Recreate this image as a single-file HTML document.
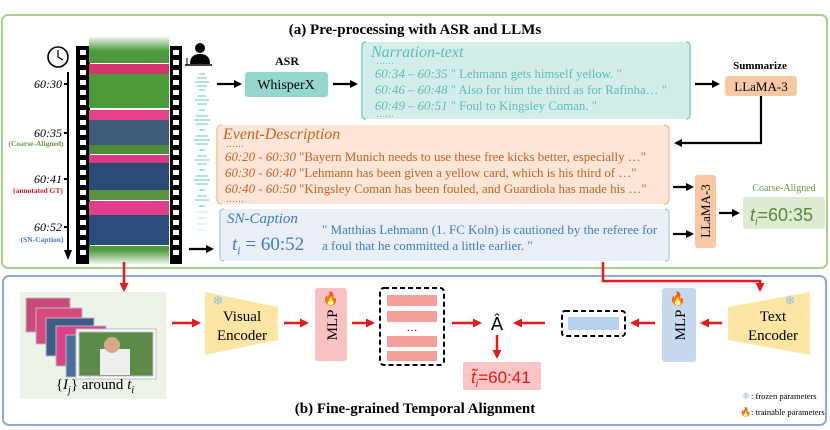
<!DOCTYPE html>
<html><head><meta charset="utf-8"><style>
html,body{margin:0;padding:0;background:#fff;}
svg{display:block;font-family:"Liberation Serif",serif;}
</style></head><body>
<svg width="830" height="430" viewBox="0 0 830 430" xmlns="http://www.w3.org/2000/svg">
<defs>
<marker id="ab" markerWidth="8" markerHeight="8" refX="6" refY="4" orient="auto" markerUnits="userSpaceOnUse"><path d="M0,0 L8,4 L0,8 z" fill="#000"/></marker>
<marker id="ar" markerWidth="9" markerHeight="9" refX="7" refY="4.5" orient="auto" markerUnits="userSpaceOnUse"><path d="M0,0 L9,4.5 L0,9 z" fill="#e8191a"/></marker>
<linearGradient id="fade" x1="0" y1="0" x2="0" y2="1"><stop offset="0" stop-color="#fff" stop-opacity="0.9"/><stop offset="1" stop-color="#fff" stop-opacity="0"/></linearGradient>
<linearGradient id="fade2" x1="0" y1="0" x2="0" y2="1"><stop offset="0" stop-color="#fff" stop-opacity="0"/><stop offset="1" stop-color="#fff" stop-opacity="0.9"/></linearGradient>
</defs>

<rect x="2" y="15" width="825" height="253" rx="6" fill="#fff" stroke="#a9d18e" stroke-width="2"/>
<text x="415" y="34" text-anchor="middle" font-weight="bold" font-size="15">(a) Pre-processing with ASR and LLMs</text>

<circle cx="58" cy="57" r="10" fill="#fff" stroke="#000" stroke-width="1.6"/>
<path d="M58,50 L58,57 L63,60" stroke="#000" stroke-width="1.2" fill="none"/>
<line x1="68" y1="72" x2="68" y2="252" stroke="#000" stroke-width="2"/>
<path d="M64,250 L68,260 L72,250 z" fill="#000"/>
<g font-style="italic" font-size="12" text-anchor="end">
<text x="62" y="88">60:30</text><line x1="64" y1="84" x2="68" y2="84" stroke="#000" stroke-width="2"/>
<text x="62" y="137">60:35</text><line x1="64" y1="133" x2="68" y2="133" stroke="#000" stroke-width="2"/>
<text x="62" y="183">60:41</text><line x1="64" y1="179" x2="68" y2="179" stroke="#000" stroke-width="2"/>
<text x="62" y="231">60:52</text><line x1="64" y1="227" x2="68" y2="227" stroke="#000" stroke-width="2"/>
</g>
<g font-size="7.5" font-weight="bold" text-anchor="middle">
<text x="36" y="146" fill="#6a9a45">(Coarse-Aligned)</text>
<text x="38" y="193" fill="#e8191a">(annotated GT)</text>
<text x="42" y="242" fill="#3d7cc9">(SN-Caption)</text>
</g>

<rect x="76" y="46" width="14" height="218" fill="#000"/>
<rect x="170" y="46" width="12" height="218" fill="#000"/>
<g fill="#fff">
<rect x="80" y="50" width="6" height="5"/><rect x="80" y="60" width="6" height="5"/><rect x="80" y="70" width="6" height="5"/><rect x="80" y="80" width="6" height="5"/><rect x="80" y="90" width="6" height="5"/><rect x="80" y="100" width="6" height="5"/><rect x="80" y="110" width="6" height="5"/><rect x="80" y="120" width="6" height="5"/><rect x="80" y="130" width="6" height="5"/><rect x="80" y="140" width="6" height="5"/><rect x="80" y="150" width="6" height="5"/><rect x="80" y="160" width="6" height="5"/><rect x="80" y="170" width="6" height="5"/><rect x="80" y="180" width="6" height="5"/><rect x="80" y="190" width="6" height="5"/><rect x="80" y="200" width="6" height="5"/><rect x="80" y="210" width="6" height="5"/><rect x="80" y="220" width="6" height="5"/><rect x="80" y="230" width="6" height="5"/><rect x="80" y="240" width="6" height="5"/><rect x="80" y="250" width="6" height="5"/>
<rect x="173" y="50" width="6" height="5"/><rect x="173" y="60" width="6" height="5"/><rect x="173" y="70" width="6" height="5"/><rect x="173" y="80" width="6" height="5"/><rect x="173" y="90" width="6" height="5"/><rect x="173" y="100" width="6" height="5"/><rect x="173" y="110" width="6" height="5"/><rect x="173" y="120" width="6" height="5"/><rect x="173" y="130" width="6" height="5"/><rect x="173" y="140" width="6" height="5"/><rect x="173" y="150" width="6" height="5"/><rect x="173" y="160" width="6" height="5"/><rect x="173" y="170" width="6" height="5"/><rect x="173" y="180" width="6" height="5"/><rect x="173" y="190" width="6" height="5"/><rect x="173" y="200" width="6" height="5"/><rect x="173" y="210" width="6" height="5"/><rect x="173" y="220" width="6" height="5"/><rect x="173" y="230" width="6" height="5"/><rect x="173" y="240" width="6" height="5"/><rect x="173" y="250" width="6" height="5"/>
</g>
<rect x="89" y="37" width="80" height="26" fill="#4c9a3c"/>
<rect x="89" y="64" width="80" height="44" fill="#4e9a3a"/>
<rect x="89" y="64" width="80" height="10" fill="#d4356f"/>
<rect x="89" y="110" width="80" height="44" fill="#3d5a7a"/>
<rect x="89" y="110" width="80" height="10" fill="#e6428a"/>
<rect x="89" y="145" width="80" height="9" fill="#4d8c3a"/>
<rect x="89" y="155" width="80" height="45" fill="#2b4a78"/>
<rect x="89" y="155" width="80" height="8" fill="#d93b82"/>
<rect x="89" y="190" width="80" height="10" fill="#5a9040"/>
<rect x="89" y="201" width="80" height="44" fill="#2c4c7c"/>
<rect x="89" y="201" width="80" height="14" fill="#e0408a"/>
<rect x="89" y="246" width="80" height="18" fill="#4f9a3e"/>
<rect x="89" y="37" width="80" height="14" fill="url(#fade)"/>
<rect x="89" y="250" width="80" height="14" fill="url(#fade2)"/>

<circle cx="200" cy="48" r="5" fill="#000"/>
<path d="M190,64 Q190,54 200,54 Q210,54 210,64 z" fill="#000"/>
<line x1="185" y1="65" x2="212" y2="65" stroke="#000" stroke-width="1.5"/>
<line x1="187" y1="58" x2="187" y2="65" stroke="#000" stroke-width="1"/>
<g stroke="#7fcfc4" stroke-width="1.2">
<line x1="199" y1="74" x2="205" y2="74"/><line x1="197" y1="78" x2="207" y2="78"/><line x1="195" y1="82" x2="209" y2="82"/><line x1="197" y1="86" x2="207" y2="86"/><line x1="199" y1="90" x2="205" y2="90"/>
<line x1="198" y1="96" x2="206" y2="96"/><line x1="195" y1="100" x2="209" y2="100"/><line x1="197" y1="104" x2="207" y2="104"/><line x1="199" y1="110" x2="205" y2="110"/>
<line x1="196" y1="116" x2="208" y2="116"/><line x1="194" y1="120" x2="210" y2="120"/><line x1="196" y1="124" x2="208" y2="124"/><line x1="199" y1="130" x2="205" y2="130"/>
<line x1="196" y1="136" x2="208" y2="136"/><line x1="194" y1="140" x2="210" y2="140"/><line x1="196" y1="144" x2="208" y2="144"/><line x1="199" y1="150" x2="205" y2="150"/>
<line x1="197" y1="156" x2="207" y2="156"/><line x1="195" y1="160" x2="209" y2="160"/><line x1="197" y1="164" x2="207" y2="164"/><line x1="199" y1="170" x2="205" y2="170"/>
<line x1="196" y1="176" x2="208" y2="176"/><line x1="194" y1="180" x2="210" y2="180"/><line x1="196" y1="184" x2="208" y2="184"/><line x1="199" y1="190" x2="205" y2="190"/>
<line x1="197" y1="196" x2="207" y2="196"/><line x1="195" y1="200" x2="209" y2="200"/><line x1="199" y1="206" x2="205" y2="206"/>
</g>
<g stroke="#c4e9e3" stroke-width="1">
<line x1="196" y1="212" x2="208" y2="212"/><line x1="198" y1="218" x2="206" y2="218"/><line x1="197" y1="224" x2="207" y2="224"/><line x1="199" y1="230" x2="205" y2="230"/>
</g>

<text x="287" y="65" text-anchor="middle" font-weight="bold" font-size="12">ASR</text>
<line x1="217" y1="84" x2="240" y2="84" stroke="#000" stroke-width="2.2" marker-end="url(#ab)"/>
<rect x="245" y="72" width="83" height="25" rx="3" fill="#93d7cf"/>
<text x="286" y="89" text-anchor="middle" font-size="14">WhisperX</text>
<line x1="333" y1="84" x2="356" y2="84" stroke="#000" stroke-width="2.2" marker-end="url(#ab)"/>

<rect x="362" y="42" width="328" height="77" rx="4" fill="#d3eeea"/>
<path d="M366,42 Q362,42 362,46 L362,115 Q362,119 366,119" stroke="#7fcfc4" stroke-width="1.5" fill="none"/>
<path d="M686,42 Q690,42 690,46 L690,115 Q690,119 686,119" stroke="#7fcfc4" stroke-width="1.5" fill="none"/>
<g fill="#5dbdb1">
<text x="371" y="57" font-style="italic" font-size="16">Narration-text</text>
<text x="376" y="64" font-size="9">……</text>
<text x="375" y="78" font-size="12.8"><tspan font-style="italic">60:34 – 60:35</tspan>  " Lehmann gets himself yellow. "</text>
<text x="375" y="94" font-size="12.8"><tspan font-style="italic">60:46 – 60:48</tspan>  " Also for him the third as for Rafinha… "</text>
<text x="375" y="110" font-size="12.8"><tspan font-style="italic">60:49 – 60:51</tspan>  " Foul to Kingsley Coman. "</text>
<text x="376" y="117" font-size="9">……</text>
</g>
<line x1="695" y1="84" x2="718" y2="84" stroke="#000" stroke-width="2.2" marker-end="url(#ab)"/>
<text x="760" y="69" text-anchor="middle" font-weight="bold" font-size="11">Summarize</text>
<rect x="725" y="76" width="72" height="20" rx="3" fill="#f8c8a5"/>
<text x="761" y="91" text-anchor="middle" font-size="13">LLaMA-3</text>
<path d="M761,96 L761,143 L676,143" stroke="#000" stroke-width="2.2" fill="none" marker-end="url(#ab)"/>

<rect x="217" y="125" width="452" height="79" rx="5" fill="#fde6d8"/>
<path d="M222,125 Q217,125 217,130 L217,199 Q217,204 222,204" stroke="#f6c3a0" stroke-width="1.5" fill="none"/>
<path d="M664,125 Q669,125 669,130 L669,199 Q669,204 664,204" stroke="#f6c3a0" stroke-width="1.5" fill="none"/>
<g fill="#c5631f">
<text x="223" y="139" font-style="italic" font-size="16">Event-Description</text>
<text x="226" y="147" font-size="9">……</text>
<text x="225" y="161" font-size="12.9"><tspan font-style="italic">60:20 - 60:30</tspan>  "Bayern Munich needs to use these free kicks better, especially …"</text>
<text x="225" y="177" font-size="12.9"><tspan font-style="italic">60:30 - 60:40</tspan>  "Lehmann has been given a yellow card, which is his third of …"</text>
<text x="225" y="193" font-size="12.9"><tspan font-style="italic">60:40 - 60:50</tspan>  "Kingsley Coman has been fouled, and Guardiola has made his …"</text>
<text x="226" y="202" font-size="9">……</text>
</g>

<rect x="220" y="209" width="449" height="52" rx="4" fill="#e9eef7"/>
<path d="M224,209 Q220,209 220,213 L220,257 Q220,261 224,261" stroke="#b7cbe6" stroke-width="1.5" fill="none"/>
<path d="M665,209 Q669,209 669,213 L669,257 Q669,261 665,261" stroke="#b7cbe6" stroke-width="1.5" fill="none"/>
<g fill="#3d7cc9">
<text x="227" y="223" font-style="italic" font-size="15">SN-Caption</text>
<text x="232" y="250" font-size="19"><tspan font-style="italic">t</tspan><tspan font-style="italic" font-size="12" dy="4">i</tspan><tspan dy="-4"> = 60:52</tspan></text>
<text x="322" y="234" font-size="13">" Matthias Lehmann (1. FC Koln) is cautioned by the referee for</text>
<text x="322" y="250" font-size="13">a foul that he committed a little earlier. "</text>
</g>
<line x1="189" y1="249" x2="212" y2="249" stroke="#000" stroke-width="2.2" marker-end="url(#ab)"/>

<line x1="673" y1="187" x2="692" y2="187" stroke="#000" stroke-width="2.2" marker-end="url(#ab)"/>
<line x1="673" y1="234" x2="692" y2="234" stroke="#000" stroke-width="2.2" marker-end="url(#ab)"/>
<rect x="695" y="175" width="21" height="73" rx="3" fill="#f8c8a5"/>
<text transform="translate(710,211) rotate(-90)" text-anchor="middle" font-size="13">LLaMA-3</text>
<line x1="719" y1="213" x2="738" y2="213" stroke="#000" stroke-width="2.2" marker-end="url(#ab)"/>
<text x="784" y="191" text-anchor="middle" font-size="10" fill="#6a9a45">Coarse-Aligned</text>
<rect x="743" y="197" width="82" height="32" rx="3" fill="#dcebd2"/>
<text x="750" y="221" font-size="18" fill="#5a8a3a" font-family="Liberation Sans, sans-serif"><tspan font-style="italic">t</tspan><tspan font-style="italic" font-size="11" dy="4">i</tspan><tspan dy="-4">=60:35</tspan></text>

<rect x="3" y="276" width="823" height="149" rx="6" fill="#fff" stroke="#8eaadb" stroke-width="2"/>
<line x1="124" y1="262" x2="124" y2="290" stroke="#e8191a" stroke-width="2.5" marker-end="url(#ar)"/>
<path d="M603,262 L603,281 L760,281 L760,290" stroke="#e8191a" stroke-width="2.5" fill="none" marker-end="url(#ar)"/>

<rect x="20" y="292" width="146" height="107" fill="#eef3ea"/>
<g stroke="#bbb" stroke-width="1">
<rect x="26" y="298" width="44" height="34" fill="#c84a7a"/>
<rect x="36" y="308" width="46" height="36" fill="#d9487f"/>
<rect x="46" y="318" width="48" height="38" fill="#3e5c88"/>
<rect x="56" y="326" width="50" height="40" fill="#d8438a"/>
<rect x="66" y="335" width="52" height="42" fill="#4a6d9a"/>
<rect x="76" y="329" width="80" height="50" fill="#fff"/>
<rect x="79" y="332" width="74" height="44" fill="#5c8a48"/>
</g>
<rect x="100" y="349" width="30" height="26" fill="#eee"/>
<circle cx="112" cy="345" r="8" fill="#d8a88a"/>
<text x="95" y="389" text-anchor="middle" font-size="15">{<tspan font-style="italic">I</tspan><tspan font-style="italic" font-size="10" dy="4">j</tspan><tspan dy="-4">} around </tspan><tspan font-style="italic">t</tspan><tspan font-style="italic" font-size="10" dy="4">i</tspan></text>

<line x1="172" y1="323" x2="199" y2="323" stroke="#e8191a" stroke-width="2.5" marker-end="url(#ar)"/>
<polygon points="205,292 278,307 278,340 205,355" fill="#fde5a4"/>
<text x="218" y="305" text-anchor="middle" font-size="13" fill="#8ec4ee">❄</text>
<text x="242" y="321" text-anchor="middle" font-size="15">Visual</text>
<text x="242" y="340" text-anchor="middle" font-size="15">Encoder</text>
<line x1="284" y1="323" x2="307" y2="323" stroke="#e8191a" stroke-width="2.5" marker-end="url(#ar)"/>
<rect x="315" y="288" width="32" height="73" rx="3" fill="#f9c2c2"/>
<text x="331" y="303" text-anchor="middle" font-size="13">🔥</text>
<text transform="translate(337,325) rotate(-90)" text-anchor="middle" font-size="15">MLP</text>
<line x1="352" y1="323" x2="373" y2="323" stroke="#e8191a" stroke-width="2.5" marker-end="url(#ar)"/>
<rect x="380" y="288" width="64" height="77" rx="4" fill="#fff" stroke="#000" stroke-width="2" stroke-dasharray="5,3"/>
<g fill="#f4a19c"><rect x="387" y="295" width="50" height="11"/><rect x="387" y="311" width="50" height="11"/><rect x="387" y="336" width="50" height="11"/><rect x="387" y="351" width="50" height="10"/></g>
<text x="412" y="331" text-anchor="middle" font-size="11">…</text>
<line x1="452" y1="323" x2="480" y2="323" stroke="#e8191a" stroke-width="2.5" marker-end="url(#ar)"/>
<text x="497" y="330" text-anchor="middle" font-size="18" font-family="DejaVu Sans, sans-serif">Â</text>
<line x1="545" y1="323" x2="515" y2="323" stroke="#e8191a" stroke-width="2.5" marker-end="url(#ar)"/>
<rect x="562" y="311" width="63" height="25" rx="3" fill="#fff" stroke="#000" stroke-width="2" stroke-dasharray="5,3"/>
<rect x="568" y="317" width="51" height="13" fill="#b7d2ee"/>
<line x1="655" y1="323" x2="632" y2="323" stroke="#e8191a" stroke-width="2.5" marker-end="url(#ar)"/>
<rect x="662" y="288" width="34" height="74" rx="3" fill="#c6daef"/>
<text x="678" y="303" text-anchor="middle" font-size="13">🔥</text>
<text transform="translate(685,325) rotate(-90)" text-anchor="middle" font-size="15">MLP</text>
<line x1="722" y1="323" x2="702" y2="323" stroke="#e8191a" stroke-width="2.5" marker-end="url(#ar)"/>
<polygon points="728,307 810,292 810,355 728,340" fill="#fde5a4"/>
<text x="790" y="305" text-anchor="middle" font-size="13" fill="#8ec4ee">❄</text>
<text x="773" y="321" text-anchor="middle" font-size="15">Text</text>
<text x="773" y="340" text-anchor="middle" font-size="15">Encoder</text>
<line x1="497" y1="335" x2="497" y2="357" stroke="#e8191a" stroke-width="2.5" marker-end="url(#ar)"/>
<rect x="463" y="362" width="78" height="28" rx="2" fill="#fbc5c5"/>
<text x="471" y="383" font-size="17" fill="#e8191a" font-family="Liberation Sans, sans-serif"><tspan font-style="italic">t̃</tspan><tspan font-style="italic" font-size="11" dy="4">i</tspan><tspan dy="-4">=60:41</tspan></text>

<text x="746" y="399" text-anchor="middle" font-size="9" fill="#8ec4ee">❄</text>
<text x="751" y="399" font-size="8.5">: frozen parameters</text>
<text x="746" y="415" text-anchor="middle" font-size="9">🔥</text>
<text x="751" y="415" font-size="8.5">: trainable parameters</text>
<text x="415" y="413" text-anchor="middle" font-weight="bold" font-size="15">(b) Fine-grained Temporal Alignment</text>
</svg>
</body></html>
